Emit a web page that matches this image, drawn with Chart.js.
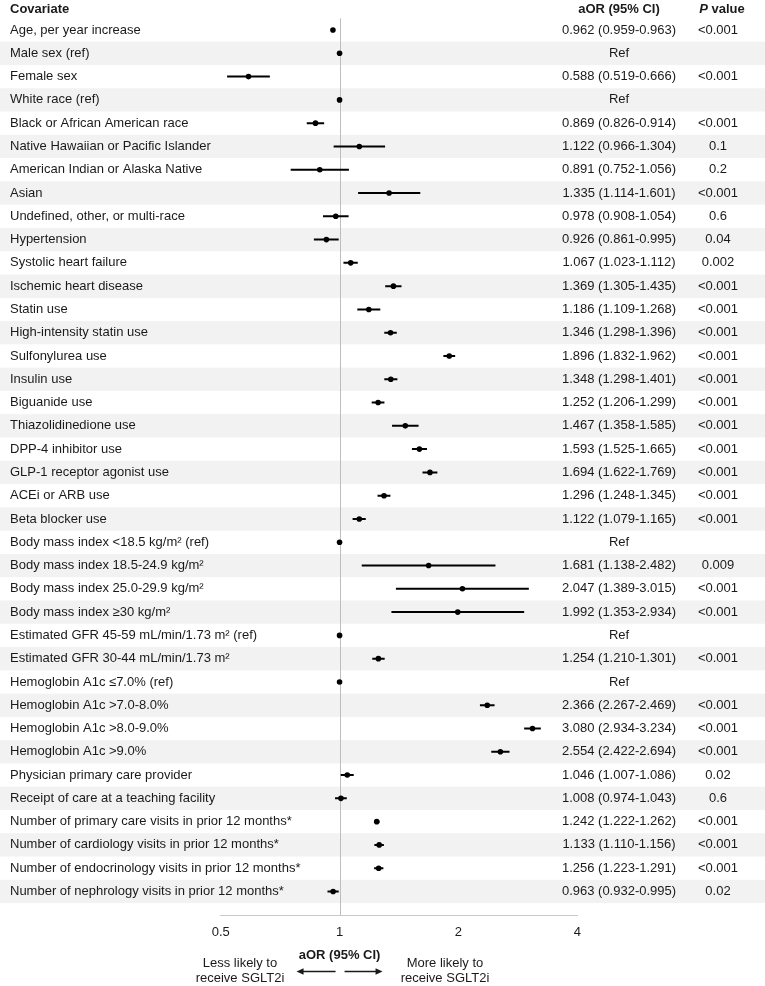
<!DOCTYPE html>
<html>
<head>
<meta charset="utf-8">
<script src="https://cdn.jsdelivr.net/npm/chart.js@4.4.0/dist/chart.umd.min.js"></script>
<style>
  html, body { margin: 0; padding: 0; background: #fff; }
  #wrap { width: 765px; height: 986px; }
</style>
</head>
<body>
<div id="wrap"><canvas id="forestChart" width="765" height="986"></canvas></div>
<script>
// one entry per row, top to bottom
const covariates = [
    'Age, per year increase',
    'Male sex (ref)',
    'Female sex',
    'White race (ref)',
    'Black or African American race',
    'Native Hawaiian or Pacific Islander',
    'American Indian or Alaska Native',
    'Asian',
    'Undefined, other, or multi-race',
    'Hypertension',
    'Systolic heart failure',
    'Ischemic heart disease',
    'Statin use',
    'High-intensity statin use',
    'Sulfonylurea use',
    'Insulin use',
    'Biguanide use',
    'Thiazolidinedione use',
    'DPP-4 inhibitor use',
    'GLP-1 receptor agonist use',
    'ACEi or ARB use',
    'Beta blocker use',
    'Body mass index <18.5 kg/m\u00B2 (ref)',
    'Body mass index 18.5-24.9 kg/m\u00B2',
    'Body mass index 25.0-29.9 kg/m\u00B2',
    'Body mass index \u226530 kg/m\u00B2',
    'Estimated GFR 45-59 mL/min/1.73 m\u00B2 (ref)',
    'Estimated GFR 30-44 mL/min/1.73 m\u00B2',
    'Hemoglobin A1c \u22647.0% (ref)',
    'Hemoglobin A1c >7.0-8.0%',
    'Hemoglobin A1c >8.0-9.0%',
    'Hemoglobin A1c >9.0%',
    'Physician primary care provider',
    'Receipt of care at a teaching facility',
    'Number of primary care visits in prior 12 months*',
    'Number of cardiology visits in prior 12 months*',
    'Number of endocrinology visits in prior 12 months*',
    'Number of nephrology visits in prior 12 months*'
];

// plotted estimate and whiskers (ref rows sit at 1 with no whisker)
const aorValues = [0.962, 1, 0.588, 1, 0.869, 1.122, 0.891, 1.335, 0.978, 0.926,
    1.067, 1.369, 1.186, 1.346, 1.896, 1.348, 1.252, 1.467, 1.593, 1.694,
    1.296, 1.122, 1, 1.681, 2.047, 1.992, 1, 1.254, 1, 2.366,
    3.080, 2.554, 1.046, 1.008, 1.242, 1.26, 1.256, 0.963];
const ciLow = [0.959, null, 0.519, null, 0.826, 0.966, 0.752, 1.114, 0.908, 0.861,
    1.023, 1.305, 1.109, 1.298, 1.832, 1.298, 1.206, 1.358, 1.525, 1.622,
    1.248, 1.079, null, 1.138, 1.389, 1.353, null, 1.210, null, 2.267,
    2.934, 2.422, 1.007, 0.974, 1.222, 1.225, 1.223, 0.932];
const ciHigh = [0.963, null, 0.666, null, 0.914, 1.304, 1.056, 1.601, 1.054, 0.995,
    1.112, 1.435, 1.268, 1.396, 1.962, 1.401, 1.299, 1.585, 1.665, 1.769,
    1.345, 1.165, null, 2.482, 3.015, 2.934, null, 1.301, null, 2.469,
    3.234, 2.694, 1.086, 1.043, 1.262, 1.295, 1.291, 0.995];

const aorText = [
    '0.962 (0.959-0.963)', 'Ref', '0.588 (0.519-0.666)', 'Ref', '0.869 (0.826-0.914)',
    '1.122 (0.966-1.304)', '0.891 (0.752-1.056)', '1.335 (1.114-1.601)', '0.978 (0.908-1.054)', '0.926 (0.861-0.995)',
    '1.067 (1.023-1.112)', '1.369 (1.305-1.435)', '1.186 (1.109-1.268)', '1.346 (1.298-1.396)', '1.896 (1.832-1.962)',
    '1.348 (1.298-1.401)', '1.252 (1.206-1.299)', '1.467 (1.358-1.585)', '1.593 (1.525-1.665)', '1.694 (1.622-1.769)',
    '1.296 (1.248-1.345)', '1.122 (1.079-1.165)', 'Ref', '1.681 (1.138-2.482)', '2.047 (1.389-3.015)',
    '1.992 (1.353-2.934)', 'Ref', '1.254 (1.210-1.301)', 'Ref', '2.366 (2.267-2.469)',
    '3.080 (2.934-3.234)', '2.554 (2.422-2.694)', '1.046 (1.007-1.086)', '1.008 (0.974-1.043)', '1.242 (1.222-1.262)',
    '1.133 (1.110-1.156)', '1.256 (1.223-1.291)', '0.963 (0.932-0.995)'
];
const pValues = [
    '<0.001', '', '<0.001', '', '<0.001', '0.1', '0.2', '<0.001', '0.6', '0.04',
    '0.002', '<0.001', '<0.001', '<0.001', '<0.001', '<0.001', '<0.001', '<0.001', '<0.001', '<0.001',
    '<0.001', '<0.001', '', '0.009', '<0.001', '<0.001', '', '<0.001', '', '<0.001',
    '<0.001', '<0.001', '0.02', '0.6', '<0.001', '<0.001', '<0.001', '0.02'
];
const xTicks = [0.5, 1, 2, 4];

const FONT = "'Liberation Sans', Arial, sans-serif";
const TEXT = '#1a1a1a';
const SHADE = '#f2f2f2';

// whiskers: one two-point line per row
const ciDatasets = covariates.map((c, i) => ({
    data: ciLow[i] == null ? [] : [{ x: ciLow[i], y: i + 1 }, { x: ciHigh[i], y: i + 1 }],
    showLine: true,
    borderColor: '#000',
    borderWidth: 2,
    pointRadius: 0,
    pointHoverRadius: 0
}));

const pointDataset = {
    data: aorValues.map((v, i) => ({ x: v, y: i + 1 })),
    pointRadius: 2.8,
    pointHoverRadius: 2.8,
    backgroundColor: '#000',
    borderWidth: 0
};

const rowBands = {
    id: 'rowBands',
    beforeDraw(chart) {
        const { ctx, width, height, chartArea, scales: { x, y } } = chart;
        ctx.save();
        ctx.fillStyle = '#fff';
        ctx.fillRect(0, 0, width, height);
        ctx.fillStyle = SHADE;
        covariates.forEach((c, i) => {
            if (i % 2 === 0) return;
            const top = y.getPixelForValue(i + 0.5);
            const bot = y.getPixelForValue(i + 1.5);
            ctx.fillRect(0, top, width, bot - top);
        });
        // no-effect line at aOR = 1
        const x1 = Math.round(x.getPixelForValue(1)) + 0.5;
        ctx.strokeStyle = '#bdbdbd';
        ctx.lineWidth = 1;
        ctx.beginPath();
        ctx.moveTo(x1, chartArea.top);
        ctx.lineTo(x1, chartArea.bottom);
        ctx.stroke();
        ctx.restore();
    }
};

function arrow(ctx, from, to, yy) {
    const dir = Math.sign(to - from);
    ctx.beginPath();
    ctx.moveTo(from, yy);
    ctx.lineTo(to - dir * 6, yy);
    ctx.stroke();
    ctx.beginPath();
    ctx.moveTo(to, yy);
    ctx.lineTo(to - dir * 7, yy - 3.2);
    ctx.lineTo(to - dir * 7, yy + 3.2);
    ctx.closePath();
    ctx.fill();
}

const tableText = {
    id: 'tableText',
    afterDraw(chart) {
        const { ctx, scales: { x, y } } = chart;
        ctx.save();
        ctx.fillStyle = TEXT;
        ctx.strokeStyle = TEXT;
        ctx.textBaseline = 'middle';

        // header row
        ctx.font = `bold 13px ${FONT}`;
        ctx.textAlign = 'left';
        ctx.fillText('Covariate', 10, 9);
        ctx.textAlign = 'center';
        ctx.fillText('aOR (95% CI)', 619, 9);
        ctx.textAlign = 'left';
        ctx.font = `italic bold 13px ${FONT}`;
        const wP = ctx.measureText('P').width;
        ctx.font = `bold 13px ${FONT}`;
        const wRest = ctx.measureText(' value').width;
        const px = 722 - (wP + wRest) / 2;
        ctx.font = `italic bold 13px ${FONT}`;
        ctx.fillText('P', px, 9);
        ctx.font = `bold 13px ${FONT}`;
        ctx.fillText(' value', px + wP, 9);

        // table body
        ctx.font = `13px ${FONT}`;
        covariates.forEach((label, i) => {
            const yy = y.getPixelForValue(i + 1);
            ctx.textAlign = 'left';
            ctx.fillText(label, 10, yy);
            ctx.textAlign = 'center';
            ctx.fillText(aorText[i], 619, yy);
            ctx.fillText(pValues[i], 718, yy);
        });

        // axis caption and direction hints
        const x1 = x.getPixelForValue(1);
        ctx.textAlign = 'center';
        ctx.font = `bold 13px ${FONT}`;
        ctx.fillText('aOR (95% CI)', x1, 955);
        ctx.font = `13px ${FONT}`;
        ctx.fillText('Less likely to', 240, 963.5);
        ctx.fillText('receive SGLT2i', 240, 978.5);
        ctx.fillText('More likely to', 445, 963.5);
        ctx.fillText('receive SGLT2i', 445, 978.5);
        ctx.lineWidth = 1.3;
        arrow(ctx, x1 - 4, x1 - 43, 971.5);
        arrow(ctx, x1 + 5, x1 + 43, 971.5);
        ctx.restore();
    }
};

new Chart(document.getElementById('forestChart'), {
    type: 'scatter',
    data: { datasets: [...ciDatasets, pointDataset] },
    options: {
        responsive: false,
        animation: false,
        devicePixelRatio: 1,
        events: [],
        layout: { padding: { left: 220.7, right: 187.7, top: 18.4, bottom: 0 } },
        scales: {
            x: {
                type: 'logarithmic',
                min: 0.5,
                max: 4,
                afterBuildTicks: (scale) => { scale.ticks = xTicks.map(v => ({ value: v })); },
                afterFit: (scale) => { scale.height = 70.3; },
                grid: { display: false, drawTicks: false },
                border: { display: true, color: '#c8c8c8', width: 1 },
                ticks: {
                    padding: 9,
                    color: TEXT,
                    font: { family: FONT, size: 13 },
                    maxRotation: 0,
                    callback: (v) => String(v)
                }
            },
            y: {
                type: 'linear',
                reverse: true,
                min: 0.5,
                max: 39.04,
                display: false
            }
        },
        plugins: {
            legend: { display: false },
            tooltip: { enabled: false }
        }
    },
    plugins: [rowBands, tableText]
});
</script>
</body>
</html>
